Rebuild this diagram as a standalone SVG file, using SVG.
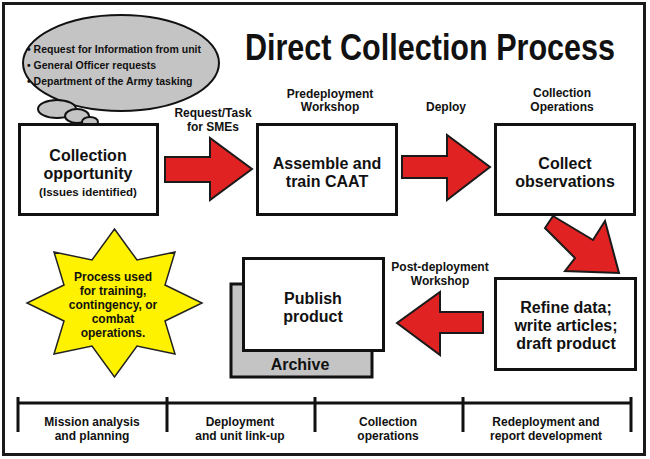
<svg xmlns="http://www.w3.org/2000/svg" width="650" height="459" viewBox="0 0 650 459">
<style>
text{font-family:"Liberation Sans",Arial,sans-serif;font-weight:bold;fill:#111;text-anchor:middle}
.box{fill:#fff;stroke:#111;stroke-width:3}
.arrow{fill:#e02222;stroke:#1a1a1a;stroke-width:2;stroke-linejoin:miter}
.big{font-size:16px}
.lbl{font-size:12px}
.bul{font-size:10.5px;text-anchor:start}
.tl{stroke:#111;stroke-width:3;fill:none}
</style>
<rect x="0" y="0" width="650" height="459" fill="#fff"/>
<rect x="3.5" y="3.5" width="641" height="451" fill="#fff" stroke="#1a1a1a" stroke-width="3"/>

<g id="title">
<text transform="translate(430,60) scale(0.826,1)" x="0" y="0" font-size="37">Direct Collection Process</text>
</g>

<g id="thought-bubble">
<ellipse cx="121" cy="63" rx="98" ry="48" fill="#c4c4c4" stroke="#111" stroke-width="2"/>
<ellipse cx="57" cy="109" rx="19" ry="9" fill="#c4c4c4" stroke="#111" stroke-width="2"/>
<ellipse cx="77" cy="116" rx="12" ry="7" fill="#c4c4c4" stroke="#111" stroke-width="2"/>
<ellipse cx="90" cy="122" rx="8" ry="5" fill="#c4c4c4" stroke="#111" stroke-width="2"/>
<text class="bul" x="27" y="53">• Request for Information from unit</text>
<text class="bul" x="27" y="69">• General Officer requests</text>
<text class="bul" x="27" y="85">• Department of the Army tasking</text>
</g>

<g id="connectors">
<polygon class="arrow" points="165,157 210,157 210,138 252,169 210,200 210,182 165,182"/>
<polygon class="arrow" points="402,156 447,156 447,135 490,167 447,200 447,178 402,178"/>
<polygon class="arrow" points="553,216 593,240 605,221 619,273 565,271 575,258 545,228"/>
<polygon class="arrow" points="483,312 440,312 440,292 397,323 440,355 440,333 483,333"/>
<text class="lbl" x="213" y="117">Request/Task</text>
<text class="lbl" x="213" y="131">for SMEs</text>
<text class="lbl" x="330" y="98">Predeployment</text>
<text class="lbl" x="330" y="111">Workshop</text>
<text class="lbl" x="446" y="111">Deploy</text>
<text class="lbl" x="562" y="97">Collection</text>
<text class="lbl" x="562" y="111">Operations</text>
<text class="lbl" x="440" y="271">Post-deployment</text>
<text class="lbl" x="440" y="285">Workshop</text>
</g>

<g id="collection-opportunity">
<rect class="box" x="19.5" y="124.5" width="138" height="90"/>
<text class="big" x="88" y="161">Collection</text>
<text class="big" x="88" y="179">opportunity</text>
<text x="88" y="196" font-size="11.5">(Issues identified)</text>
</g>

<g id="assemble-train">
<rect class="box" x="257.5" y="124.5" width="139" height="90"/>
<text class="big" x="327" y="169">Assemble and</text>
<text class="big" x="327" y="187">train CAAT</text>
</g>

<g id="collect-observations">
<rect class="box" x="495.5" y="124.5" width="139" height="90"/>
<text class="big" x="565" y="169">Collect</text>
<text class="big" x="565" y="187">observations</text>
</g>

<g id="refine-data">
<rect class="box" x="495.5" y="278.5" width="140" height="91"/>
<text class="big" x="566" y="313">Refine data;</text>
<text class="big" x="566" y="331">write articles;</text>
<text class="big" x="566" y="349">draft product</text>
</g>

<g id="publish-product">
<rect x="231" y="284" width="141" height="93" fill="#c4c4c4" stroke="#111" stroke-width="3"/>
<text class="big" x="300" y="370">Archive</text>
<rect class="box" x="243.5" y="258.5" width="140" height="92"/>
<text class="big" x="313" y="304">Publish</text>
<text class="big" x="313" y="322">product</text>
</g>

<g id="star">
<polygon points="114.5,229 137,260 175,252 165,285 202,303 165,321 175,354 137,346 114.5,377 92,346 54,354 64,321 27,303 64,285 54,252 92,260" fill="#fff200" stroke="#222" stroke-width="1.5"/>
<text class="lbl" x="113" y="281">Process used</text>
<text class="lbl" x="113" y="295">for training,</text>
<text class="lbl" x="113" y="309">contingency, or</text>
<text class="lbl" x="113" y="323">combat</text>
<text class="lbl" x="113" y="337">operations.</text>
</g>

<g id="timeline">
<path class="tl" d="M18,403 H631 M18,397 V432 M167,397 V432 M315,397 V432 M463,397 V432 M631,397 V432"/>
<text class="lbl" x="92" y="426">Mission analysis</text>
<text class="lbl" x="92" y="440">and planning</text>
<text class="lbl" x="240" y="426">Deployment</text>
<text class="lbl" x="240" y="440">and unit link-up</text>
<text class="lbl" x="388" y="426">Collection</text>
<text class="lbl" x="388" y="440">operations</text>
<text class="lbl" x="546" y="426">Redeployment and</text>
<text class="lbl" x="546" y="440">report development</text>
</g>
</svg>
